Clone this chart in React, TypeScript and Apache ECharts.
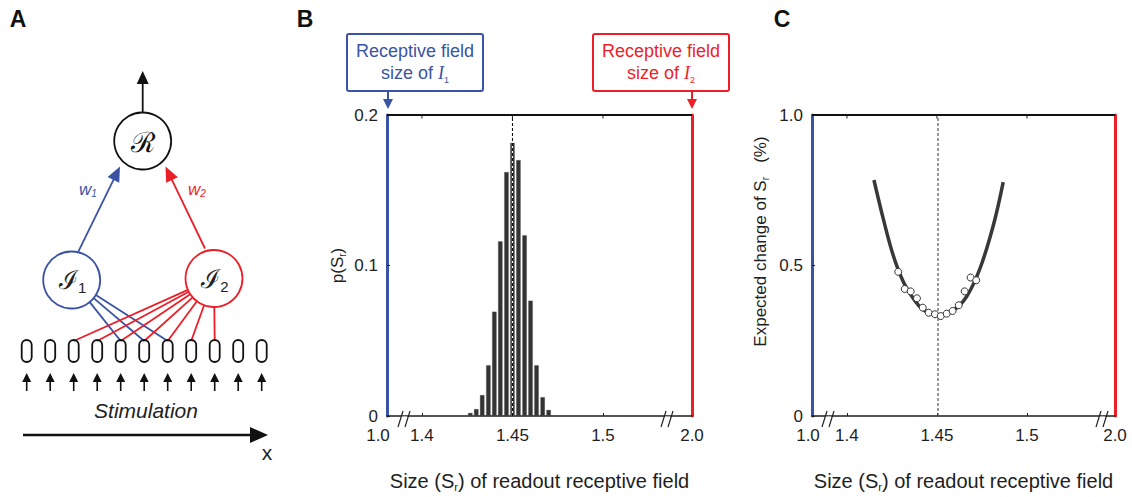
import React, { useEffect, useRef } from 'react';
import * as echarts from 'echarts';

// ---------- DATA ----------
// Panel B: histogram of readout receptive-field size
const histBins = [1.4267, 1.43, 1.4333, 1.4367, 1.44, 1.4433, 1.4467, 1.45, 1.4533, 1.4567, 1.46, 1.4633, 1.4667, 1.47];
const histProb = [0.002, 0.0046, 0.0139, 0.0337, 0.0693, 0.116, 0.162, 0.1815, 0.17, 0.12, 0.0766, 0.0337, 0.0125, 0.004];
const B_MEAN = 1.45;

// Panel C: expected change (%) — fitted curve and samples
const fitX = [1.415, 1.4202, 1.4257, 1.4313, 1.4368, 1.4424, 1.4507, 1.4591, 1.4665, 1.4739, 1.4813, 1.4868];
const fitY = [0.784, 0.655, 0.534, 0.446, 0.391, 0.353, 0.335, 0.351, 0.397, 0.49, 0.633, 0.777];
const sampleX = [1.4285, 1.4321, 1.4354, 1.4389, 1.4421, 1.4454, 1.4489, 1.4521, 1.4554, 1.4587, 1.4621, 1.4654, 1.4687, 1.4718];
const sampleY = [0.479, 0.422, 0.414, 0.391, 0.36, 0.343, 0.338, 0.332, 0.34, 0.349, 0.368, 0.414, 0.46, 0.451];
const C_OPT = 1.4506;

// Axis ticks / labels
const xTickValues = [1.4, 1.45, 1.5];
const xEndLabels = ['1.0', '2.0'];
const B_Y_MAX = 0.2;
const B_Y_INTERVAL = 0.1;
const C_Y_MAX = 1.0;
const C_Y_INTERVAL = 0.5;
// broken-axis display extents (1.0 and 2.0 are shown at the ends)
const B_XMIN = 1.3807;
const B_XMAX = 1.5492;
const C_XMIN = 1.3806;
const C_XMAX = 1.5489;

// Panel A network
const RECEPTOR_COUNT = 11;
const I1_TARGETS = [4, 5, 6];
const I2_TARGETS = [2, 3, 4, 5, 6, 7, 8];

const BLUE = '#3a53a4';
const RED = '#ec1f28';
const INK = '#1e1e1e';
const FONT = '"Liberation Sans", Arial, Helvetica, sans-serif';

const GRID_B = { left: 387, top: 115, width: 305, height: 304 };
const GRID_C = { left: 812, top: 115, width: 303, height: 304 };

function arrow(x1: number, y1: number, x2: number, y2: number, color: string, width: number, headLen: number, headHalf: number) {
  const dx = x2 - x1;
  const dy = y2 - y1;
  const L = Math.sqrt(dx * dx + dy * dy);
  const ux = dx / L;
  const uy = dy / L;
  const bx = x2 - ux * headLen;
  const by = y2 - uy * headLen;
  const px = -uy * headHalf;
  const py = ux * headHalf;
  return [
    { type: 'line', z: 100, shape: { x1, y1, x2: bx + ux * 1, y2: by + uy * 1 }, style: { stroke: color, lineWidth: width } },
    {
      type: 'polygon', z: 100,
      shape: { points: [[x2, y2], [bx + px, by + py], [bx - px, by - py]] },
      style: { fill: color },
    },
  ];
}

function breakMark(x: number, y: number) {
  return [
    { type: 'rect', z: 100, shape: { x: x - 3, y: y - 2.5, width: 6, height: 5 }, style: { fill: '#fff' } },
    { type: 'line', z: 101, shape: { x1: x - 6, y1: y + 8, x2: x - 1, y2: y - 8 }, style: { stroke: INK, lineWidth: 1.2 } },
    { type: 'line', z: 101, shape: { x1: x + 1, y1: y + 8, x2: x + 6, y2: y - 8 }, style: { stroke: INK, lineWidth: 1.2 } },
  ];
}

function topFrame(g: { left: number; top: number; width: number }, xmin: number, xmax: number) {
  const els: any[] = [
    { type: 'rect', z: 200, shape: { x: g.left, y: g.top - 1, width: g.width, height: 2 }, style: { fill: '#111' } },
  ];
  xTickValues.forEach((v) => {
    const x = g.left + ((v - xmin) / (xmax - xmin)) * g.width;
    els.push({ type: 'rect', z: 200, shape: { x: x - 0.5, y: g.top, width: 1, height: 3.5 }, style: { fill: INK } });
  });
  return els;
}

function buildGraphics() {
  const els: any[] = [];
  [['A', 18, 19], ['B', 305, 19], ['C', 782, 19]].forEach(([t, x, y]) => {
    els.push({
      type: 'text', z: 100, x, y,
      style: { text: t, fontSize: 23, fontWeight: 'bold', fontFamily: FONT, fill: '#111', align: 'center', verticalAlign: 'middle' },
    });
  });

  // ----- Panel A -----
  const R = { x: 142.7, y: 141, r: 28.5 };
  const I1 = { x: 71.7, y: 280, r: 28.5 };
  const I2 = { x: 214, y: 278.5, r: 28.5 };
  const recX = (i: number) => 26.7 + i * 23.5;
  const recTop = 340;

  I1_TARGETS.forEach((i) => {
    const tx = recX(i);
    const dx = tx - I1.x, dy = recTop - I1.y;
    const L = Math.sqrt(dx * dx + dy * dy);
    els.push({ type: 'line', z: 100, shape: { x1: I1.x + (dx / L) * I1.r, y1: I1.y + (dy / L) * I1.r, x2: tx, y2: recTop + 1 }, style: { stroke: BLUE, lineWidth: 1.8 } });
  });
  I2_TARGETS.forEach((i) => {
    const tx = recX(i);
    const dx = tx - I2.x, dy = recTop - I2.y;
    const L = Math.sqrt(dx * dx + dy * dy);
    els.push({ type: 'line', z: 100, shape: { x1: I2.x + (dx / L) * I2.r, y1: I2.y + (dy / L) * I2.r, x2: tx, y2: recTop + 1 }, style: { stroke: RED, lineWidth: 1.8 } });
  });

  for (let i = 0; i < RECEPTOR_COUNT; i++) {
    const x = recX(i);
    els.push({ type: 'rect', z: 100, shape: { x: x - 5, y: recTop, width: 10, height: 22, r: 5 }, style: { fill: 'none', stroke: '#111', lineWidth: 1.8 } });
    els.push(...arrow(x, 391, x, 373, '#111', 1.6, 9, 4.5));
  }

  els.push({ type: 'circle', z: 100, shape: { cx: R.x, cy: R.y, r: R.r }, style: { fill: '#fff', stroke: '#111', lineWidth: 1.8 } });
  els.push({ type: 'circle', z: 100, shape: { cx: I1.x, cy: I1.y, r: I1.r }, style: { fill: '#fff', stroke: BLUE, lineWidth: 1.8 } });
  els.push({ type: 'circle', z: 100, shape: { cx: I2.x, cy: I2.y, r: I2.r }, style: { fill: '#fff', stroke: RED, lineWidth: 1.8 } });

  els.push({
    type: 'text', z: 101, x: R.x, y: R.y + 1,
    style: { text: '\u211B', fontSize: 28, fontFamily: '"DejaVu Serif", serif', fill: '#111', align: 'center', verticalAlign: 'middle' },
  });
  const nodeRich = {
    i: { fontSize: 26, fontFamily: '"DejaVu Serif", serif', fill: '#222', lineHeight: 30 },
    s: { fontSize: 15, fontFamily: FONT, fill: '#222', lineHeight: 16, verticalAlign: 'bottom' },
  };
  els.push({ type: 'text', z: 101, x: I1.x + 1, y: I1.y, style: { text: '{i|\u2110}{s|1}', rich: nodeRich, align: 'center', verticalAlign: 'middle' } });
  els.push({ type: 'text', z: 101, x: I2.x + 1, y: I2.y, style: { text: '{i|\u2110}{s|2}', rich: nodeRich, align: 'center', verticalAlign: 'middle' } });

  els.push(...arrow(R.x, R.y - R.r, R.x, 71, '#111', 1.8, 13, 6));
  els.push(...arrow(78.3, 251.7, 120, 166.5, BLUE, 1.8, 15, 6.5));
  els.push(...arrow(205, 248.5, 165.5, 166.5, RED, 1.8, 15, 6.5));

  const wRich = (c: string) => ({
    w: { fontSize: 17, fontFamily: FONT, fontStyle: 'italic', fill: c, lineHeight: 18 },
    s: { fontSize: 10, fontFamily: FONT, fontStyle: 'italic', fill: c, lineHeight: 10, verticalAlign: 'bottom' },
  });
  els.push({ type: 'text', z: 101, x: 88, y: 189, style: { text: '{w|w}{s|1}', rich: wRich(BLUE), align: 'center', verticalAlign: 'middle' } });
  els.push({ type: 'text', z: 101, x: 197, y: 189, style: { text: '{w|w}{s|2}', rich: wRich(RED), align: 'center', verticalAlign: 'middle' } });

  els.push({
    type: 'text', z: 101, x: 146, y: 410,
    style: { text: 'Stimulation', fontSize: 21, fontStyle: 'italic', fontFamily: FONT, fill: '#222', align: 'center', verticalAlign: 'middle' },
  });
  els.push(...arrow(23, 435, 268, 435, '#111', 2.5, 18, 8));
  els.push({
    type: 'text', z: 101, x: 267, y: 452,
    style: { text: 'x', fontSize: 21, fontFamily: FONT, fill: '#222', align: 'center', verticalAlign: 'middle' },
  });

  // ----- Panel B callouts -----
  const calloutRich = (c: string) => ({
    t: { fontSize: 18, fontFamily: FONT, fill: c, lineHeight: 22 },
    i: { fontSize: 18, fontFamily: '"Liberation Serif", serif', fontStyle: 'italic', fill: c, lineHeight: 22 },
    s: { fontSize: 9, fontFamily: FONT, fill: c, lineHeight: 10, verticalAlign: 'bottom' },
  });
  const callout = (cx: number, ax: number, c: string, sub: string) => {
    els.push({ type: 'rect', z: 100, shape: { x: cx - 68, y: 34, width: 136, height: 57, r: 2 }, style: { fill: '#fff', stroke: c, lineWidth: 2 } });
    els.push({
      type: 'text', z: 101, x: cx, y: 62,
      style: { text: '{t|Receptive field}\n{t|size of }{i|I}{s|' + sub + '}', rich: calloutRich(c), align: 'center', verticalAlign: 'middle' },
    });
    els.push(...arrow(ax, 91, ax, 109, c, 2, 10, 5));
  };
  callout(415, 388, BLUE, '1');
  callout(661, 692, RED, '2');

  els.push(...topFrame(GRID_B, B_XMIN, B_XMAX));
  els.push(...topFrame(GRID_C, C_XMIN, C_XMAX));

  els.push(...breakMark(404, 419));
  els.push(...breakMark(667, 419));
  els.push(...breakMark(828, 419));
  els.push(...breakMark(1102, 419));
  return els;
}

function xBottom(gridIndex: number, min: number, max: number, leftPad: number) {
  return {
    type: 'value', gridIndex, min, max, position: 'bottom',
    axisLine: { show: true, onZero: false, lineStyle: { color: INK, width: 1.5 } },
    axisTick: { inside: true, length: 3, customValues: xTickValues, lineStyle: { color: INK } },
    splitLine: { show: false },
    axisLabel: {
      customValues: [min, ...xTickValues, max],
      margin: 11, fontSize: 17, color: INK, fontFamily: FONT,
      formatter: (v: number) => {
        if (Math.abs(v - min) < 1e-6) return '{l|' + xEndLabels[0] + '}';
        if (Math.abs(v - max) < 1e-6) return '{r|' + xEndLabels[1] + '}';
        return Math.abs(v - 1.45) < 1e-6 ? '1.45' : v.toFixed(1);
      },
      rich: {
        l: { fontSize: 17, color: INK, fontFamily: FONT, padding: [0, leftPad, 0, 0] },
        r: { fontSize: 17, color: INK, fontFamily: FONT },
      },
    },
    name: '{b|Size (S}{s|r}{b|) of readout receptive field}',
    nameLocation: 'middle',
    nameGap: 54,
    nameTextStyle: {
      rich: {
        b: { fontSize: 20, color: INK, fontFamily: FONT, lineHeight: 22 },
        s: { fontSize: 11, color: INK, fontFamily: FONT, lineHeight: 12, verticalAlign: 'bottom' },
      },
    },
  };
}

function yLeft(gridIndex: number, max: number, interval: number, name: string, nameGap: number, namePad: number[]) {
  return {
    type: 'value', gridIndex, min: 0, max, interval, position: 'left',
    axisLine: { show: true, onZero: false, lineStyle: { color: BLUE, width: 3 } },
    axisTick: { show: true, inside: true, length: 3, lineStyle: { color: INK } },
    splitLine: { show: false },
    axisLabel: {
      margin: 9, fontSize: 17, color: INK, fontFamily: FONT,
      formatter: (v: number) => (v === 0 ? '0' : v.toFixed(1)),
    },
    name,
    nameLocation: 'middle',
    nameGap,
    nameTextStyle: {
      padding: namePad,
      rich: {
        b: { fontSize: 17, color: INK, fontFamily: FONT, lineHeight: 20 },
        s: { fontSize: 10, color: INK, fontFamily: FONT, lineHeight: 10, verticalAlign: 'bottom' },
      },
    },
  };
}

function yRight(gridIndex: number, max: number) {
  return {
    type: 'value', gridIndex, min: 0, max, position: 'right',
    axisLine: { show: true, onZero: false, lineStyle: { color: RED, width: 3 } },
    axisTick: { show: false },
    axisLabel: { show: false },
    splitLine: { show: false },
  };
}

export default function App() {
  const ref = useRef<HTMLDivElement>(null);
  useEffect(() => {
    document.body.style.margin = '0';
    if (!ref.current) return;
    const chart = echarts.init(ref.current, null, { renderer: 'svg' });
    const option: any = {
      animation: false,
      backgroundColor: '#fff',
      textStyle: { fontFamily: FONT },
      grid: [{ ...GRID_B }, { ...GRID_C }],
      xAxis: [
        xBottom(0, B_XMIN, B_XMAX, 18),
        xBottom(1, C_XMIN, C_XMAX, 8),
      ],
      yAxis: [
        yLeft(0, B_Y_MAX, B_Y_INTERVAL, '{b|p(S}{s|r}{b|)}', 40, [0, 0, 0, 0]),
        yRight(0, B_Y_MAX),
        yLeft(1, C_Y_MAX, C_Y_INTERVAL, '{b|Expected change of S}{s|r}{b|   (%)}', 42, [0, 0, 0, 48]),
        yRight(1, C_Y_MAX),
      ],
      series: [
        {
          type: 'bar', xAxisIndex: 0, yAxisIndex: 0, z: 2,
          barWidth: 4.4,
          itemStyle: { color: '#333333', borderColor: '#555', borderWidth: 0.3 },
          data: histBins.map((x, i) => [x, histProb[i]]),
        },
        {
          type: 'line', xAxisIndex: 0, yAxisIndex: 0, z: 3, symbol: 'none',
          lineStyle: { color: '#ffffff', width: 1.2 },
          data: [[B_MEAN, 0], [B_MEAN, B_Y_MAX]],
        },
        {
          type: 'line', xAxisIndex: 0, yAxisIndex: 0, z: 4, symbol: 'none',
          lineStyle: { color: '#000000', width: 1, type: [3, 2] },
          data: [[B_MEAN, 0], [B_MEAN, B_Y_MAX]],
        },
        {
          type: 'line', xAxisIndex: 1, yAxisIndex: 2, z: 2, symbol: 'none',
          lineStyle: { color: '#555555', width: 1.2, type: [3, 2] },
          data: [[C_OPT, 0], [C_OPT, C_Y_MAX]],
        },
        {
          type: 'line', xAxisIndex: 1, yAxisIndex: 2, z: 5, symbol: 'none', clip: false,
          lineStyle: { color: '#111111', width: 1.8 },
          data: [[C_XMIN, C_Y_MAX], [C_XMAX, C_Y_MAX]],
        },
        {
          type: 'line', xAxisIndex: 1, yAxisIndex: 2, z: 3, symbol: 'none', smooth: 0.4,
          lineStyle: { color: '#383838', width: 3.5 },
          data: fitX.map((x, i) => [x, fitY[i]]),
        },
        {
          type: 'scatter', xAxisIndex: 1, yAxisIndex: 2, z: 4,
          symbol: 'circle', symbolSize: 7,
          itemStyle: { color: '#ffffff', borderColor: '#333333', borderWidth: 1, opacity: 1 },
          data: sampleX.map((x, i) => [x, sampleY[i]]),
        },
      ],
      graphic: buildGraphics(),
    };
    chart.setOption(option);
    return () => chart.dispose();
  }, []);
  return <div ref={ref} style={{ width: 1132, height: 497 }} />;
}
